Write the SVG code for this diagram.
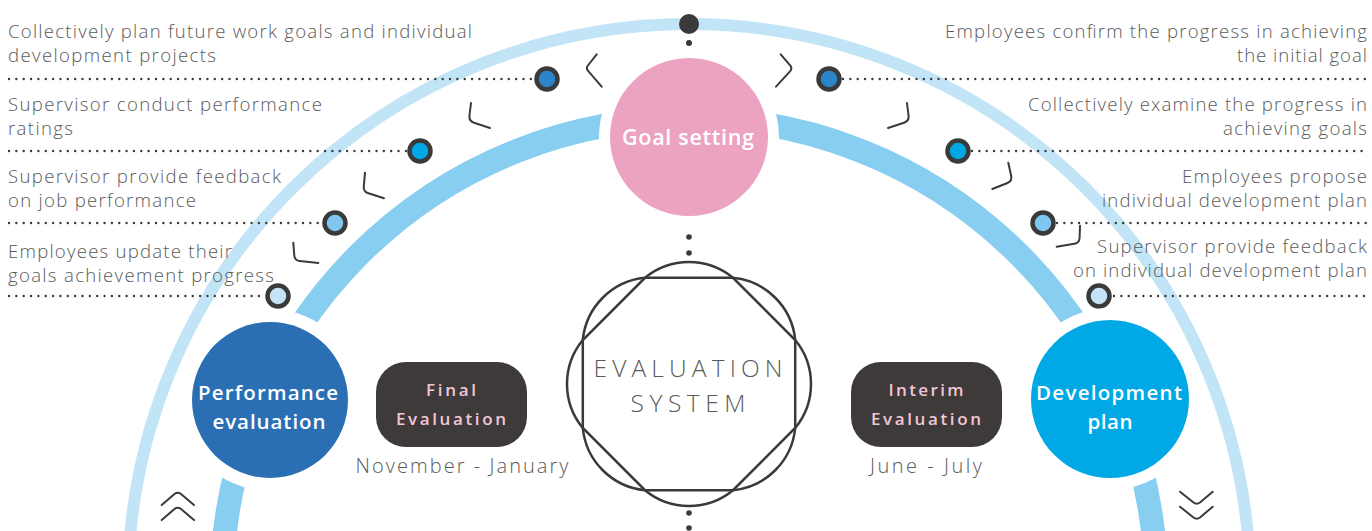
<svg xmlns="http://www.w3.org/2000/svg" width="1372" height="531" viewBox="0 0 1372 531">
<style>
.lbl{font-family:"Open Sans","Liberation Sans",sans-serif;font-weight:300;font-size:18.6px;fill:#5a5a5a}
.node{font-family:"Open Sans","Liberation Sans",sans-serif;font-weight:600;fill:#fff;text-anchor:middle}
.box{fill:#3e3a3a}
.boxt{font-family:"Open Sans","Liberation Sans",sans-serif;font-weight:600;font-size:17px;fill:#f3c6d6;text-anchor:middle}
.sub{font-family:"Open Sans","Liberation Sans",sans-serif;font-weight:300;font-size:20px;fill:#5a5a5a;text-anchor:middle}
.ctr{font-family:"Open Sans","Liberation Sans",sans-serif;font-weight:300;font-size:24.5px;fill:#5a5a5a;text-anchor:middle}
.dots{fill:none;stroke:#3a3a3a;stroke-width:2.4;stroke-linecap:round;stroke-dasharray:0 7.35}
.mk{stroke:#3a3a3a;stroke-width:4.5}
.chev{fill:none;stroke:#3a3a3a;stroke-width:2;stroke-linecap:round;stroke-linejoin:round}
.dot{fill:#3a3a3a}
.ring{fill:#fff}
.ev{fill:none;stroke:#3a3a3a;stroke-width:2.5}
</style>
<rect width="1372" height="531" fill="#fff"/>
<g id="connectors">
<circle cx="689" cy="585" r="561" fill="none" stroke="#c2e4f7" stroke-width="12"/>
<circle cx="689" cy="585" r="467" fill="none" stroke="#87cef0" stroke-width="24"/>
<path class="chev" d="M596.7,54.3 L587.9,65.5 Q585.7,68.3 588.3,71.2 L601.7,86.7"/>
<path class="chev" d="M780.7,54.3 L790.1,65.3 Q792.7,68.3 790,71.3 L776,86.7"/>
<path class="chev" d="M471,103 L469.4,116 Q469,121 474,122.8 L490,128"/>
<path class="chev" d="M365,172.7 L363.8,186.5 Q363.3,191.7 368.5,193.3 L384,198.3"/>
<path class="chev" d="M293.3,242.7 L294.3,255.5 Q294.7,260.5 299.7,261 L318.3,263"/>
<path class="chev" d="M907,103 L908.6,116 Q909,121 904,122.8 L888,128"/>
<path class="chev" d="M1008.3,162.7 L1011.2,176 Q1012.3,181 1007.5,183 L992.3,189"/>
<path class="chev" d="M1080,225.7 L1079.6,238 Q1079.3,243 1074.3,243.8 L1056.7,246.7"/>
<path class="chev" d="M161.7,505 L174.5,494 Q177.7,491.5 181,494 L194,505"/>
<path class="chev" d="M161.7,520 L174.5,509 Q177.7,506.5 181,509 L194,520"/>
<path class="chev" d="M1180,491.7 L1193.5,502.5 Q1196.7,505 1200,502.5 L1212.7,491.7"/>
<path class="chev" d="M1180,506.7 L1193.5,517.5 Q1196.7,520 1200,517.5 L1212.7,506.7"/>
<path class="dots" d="M9,79 H533"/>
<path class="dots" d="M9,151 H406"/>
<path class="dots" d="M9,223 H321"/>
<path class="dots" d="M9,296 H264"/>
<path class="dots" d="M843,79 H1368"/>
<path class="dots" d="M972,151 H1368"/>
<path class="dots" d="M1057,223 H1368"/>
<path class="dots" d="M1114,296 H1368"/>
<circle class="dot" cx="689" cy="24" r="10"/>
<circle class="dot" cx="689" cy="43" r="3"/>
<circle class="dot" cx="689" cy="237" r="2.8"/>
<circle class="dot" cx="689" cy="253" r="2.8"/>
<circle class="dot" cx="689" cy="513" r="2.8"/>
<circle class="dot" cx="689" cy="528" r="2.8"/>
</g>
<g id="markers">
<circle class="mk" cx="547" cy="79" r="10.5" fill="#2a86c8"/>
<circle class="mk" cx="420" cy="151" r="10.5" fill="#00a7e5"/>
<circle class="mk" cx="335" cy="223" r="10.5" fill="#7fc7ee"/>
<circle class="mk" cx="278" cy="296" r="10.5" fill="#c4e3f6"/>
<circle class="mk" cx="829" cy="79" r="10.5" fill="#2a86c8"/>
<circle class="mk" cx="958" cy="151" r="10.5" fill="#00a7e5"/>
<circle class="mk" cx="1043" cy="223" r="10.5" fill="#7fc7ee"/>
<circle class="mk" cx="1099" cy="296" r="10.5" fill="#c4e3f6"/>
</g>
<g id="node-goal">
<circle class="ring" cx="689" cy="137" r="90"/>
<circle cx="689" cy="137" r="79" fill="#eba3c1"/>
<text class="node" x="688" y="145" font-size="21.5" textLength="132" lengthAdjust="spacing">Goal setting</text>
</g>
<g id="node-performance">
<circle class="ring" cx="270" cy="400" r="91"/>
<circle cx="270" cy="400" r="78" fill="#2a6fb4"/>
<text class="node" x="268" y="400" font-size="20.5" textLength="140" lengthAdjust="spacing">Performance</text>
<text class="node" x="269" y="429" font-size="20.5" textLength="113" lengthAdjust="spacing">evaluation</text>
</g>
<g id="node-development">
<circle class="ring" cx="1110" cy="399" r="91"/>
<circle cx="1110" cy="399" r="79" fill="#00a9e6"/>
<text class="node" x="1109" y="400" font-size="20.5" textLength="146" lengthAdjust="spacing">Development</text>
<text class="node" x="1110" y="429" font-size="20.5" textLength="45" lengthAdjust="spacing">plan</text>
</g>
<g id="node-evaluation-system">
<polygon class="ev" points="645,277.8 733,277.8 795.2,340 795.2,428 733,490.2 645,490.2 582.8,428 582.8,340"/>
<path class="ev" d="M645,277.8 A69.2,69.2 0 0 1 733,277.8 A69.2,69.2 0 0 1 795.2,340 A69.2,69.2 0 0 1 795.2,428 A69.2,69.2 0 0 1 733,490.2 A69.2,69.2 0 0 1 645,490.2 A69.2,69.2 0 0 1 582.8,428 A69.2,69.2 0 0 1 582.8,340 A69.2,69.2 0 0 1 645,277.8 Z"/>
<text class="ctr" x="688" y="377" textLength="189" lengthAdjust="spacing">EVALUATION</text>
<text class="ctr" x="688" y="412" textLength="115" lengthAdjust="spacing">SYSTEM</text>
</g>
<g id="node-final">
<rect class="box" x="376" y="362" width="151" height="85" rx="30"/>
<text class="boxt" x="451" y="396" textLength="50" lengthAdjust="spacing">Final</text>
<text class="boxt" x="451" y="425" textLength="110" lengthAdjust="spacing">Evaluation</text>
<text class="sub" x="462" y="473" textLength="213" lengthAdjust="spacing">November - January</text>
</g>
<g id="node-interim">
<rect class="box" x="851" y="362" width="151" height="85" rx="30"/>
<text class="boxt" x="926" y="396" textLength="75" lengthAdjust="spacing">Interim</text>
<text class="boxt" x="926" y="425" textLength="110" lengthAdjust="spacing">Evaluation</text>
<text class="sub" x="926" y="473" textLength="112" lengthAdjust="spacing">June - July</text>
</g>
<g id="labels-left">
<text class="lbl" x="8" y="38" textLength="464" lengthAdjust="spacing">Collectively plan future work goals and individual</text>
<text class="lbl" x="8" y="62" textLength="208" lengthAdjust="spacing">development projects</text>
<text class="lbl" x="8" y="111" textLength="314" lengthAdjust="spacing">Supervisor conduct performance</text>
<text class="lbl" x="8" y="135" textLength="65" lengthAdjust="spacing">ratings</text>
<text class="lbl" x="8" y="183" textLength="273" lengthAdjust="spacing">Supervisor provide feedback</text>
<text class="lbl" x="8" y="207" textLength="188" lengthAdjust="spacing">on job performance</text>
<text class="lbl" x="8" y="258" textLength="224" lengthAdjust="spacing">Employees update their</text>
<text class="lbl" x="8" y="282" textLength="266" lengthAdjust="spacing">goals achievement progress</text>
</g>
<g id="labels-right">
<text class="lbl" x="945" y="38" textLength="422" lengthAdjust="spacing">Employees confirm the progress in achieving</text>
<text class="lbl" x="1237" y="62" textLength="130" lengthAdjust="spacing">the initial goal</text>
<text class="lbl" x="1028" y="111" textLength="339" lengthAdjust="spacing">Collectively examine the progress in</text>
<text class="lbl" x="1223" y="135" textLength="144" lengthAdjust="spacing">achieving goals</text>
<text class="lbl" x="1182" y="183" textLength="185" lengthAdjust="spacing">Employees propose</text>
<text class="lbl" x="1102" y="207" textLength="265" lengthAdjust="spacing">individual development plan</text>
<text class="lbl" x="1097" y="253" textLength="270" lengthAdjust="spacing">Supervisor provide feedback</text>
<text class="lbl" x="1073" y="277" textLength="294" lengthAdjust="spacing">on individual development plan</text>
</g>
</svg>
